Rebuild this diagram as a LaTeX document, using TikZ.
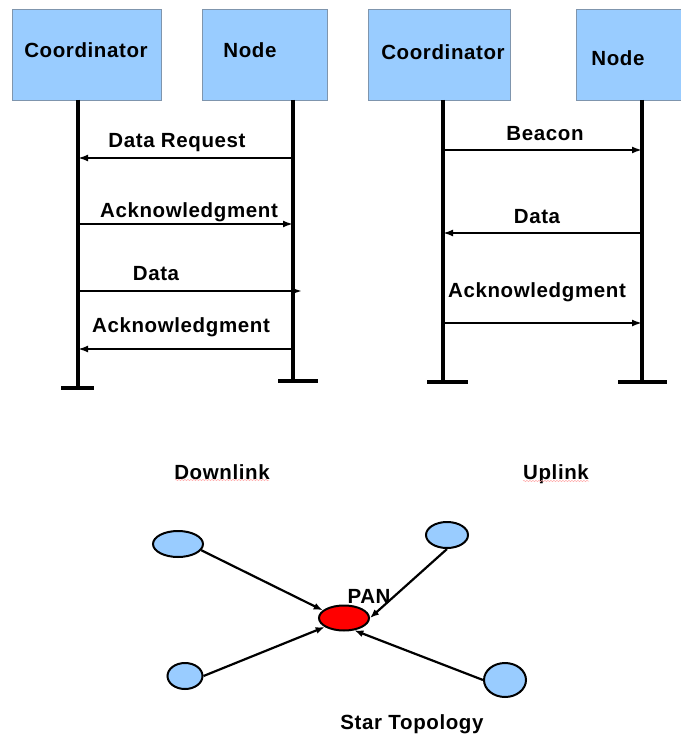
\documentclass[tikz,border=0pt]{standalone}
\usepackage{fontspec}
\setmainfont{Liberation Sans}
\newfontfamily\lblfont[LetterSpace=3]{Liberation Sans}
\usetikzlibrary{arrows.meta,shapes.geometric,decorations.pathmorphing}
\definecolor{boxblue}{HTML}{99CCFF}
\definecolor{boxedge}{HTML}{7F95AD}
\begin{document}
\begin{tikzpicture}[x=1pt,y=-1pt,
  lbl/.style={font=\lblfont\fontsize{20.5}{24}\selectfont\bfseries, inner sep=0pt, text height=14.7pt, text depth=0pt, anchor=center},
  actor/.style={draw=boxedge, line width=0.8pt, fill=boxblue},
  life/.style={line width=3.5pt},
  msg/.style={line width=2.5pt, -{Latex[length=10pt,width=7pt]}},
  leaf/.style={ellipse, draw=black, line width=2pt, fill=boxblue, inner sep=0pt},
  link/.style={line width=2.2pt, -{Latex[length=9pt,width=7pt]}},
  squiggle/.style={draw=red!35, line width=0.5pt, decorate, decoration={snake, amplitude=0.6pt, segment length=3pt}}
]
\useasboundingbox (0,0) rectangle (680,738);
% ---------- Downlink ----------
\draw[actor] (12,9) rectangle (161,100);
\draw[actor] (202,9) rectangle (327,100);
\node[lbl] (lc) at (86,50) {Coordinator};
\node[lbl] (ln) at (250,50) {Node};
\coordinate (lct) at (78,100); \coordinate (lcb) at (78,388);
\coordinate (lnt) at (293,100); \coordinate (lnb) at (293,381);
\draw[life] (lct) -- (lcb);
\draw[life] (lnt) -- (lnb);
\draw[life] (61,388) -- (94,388);
\draw[life] (278,381) -- (318,381);
\coordinate (c1) at (78,158); \coordinate (n1) at (293,158);
\coordinate (c2) at (78,224); \coordinate (n2) at (293,224);
\coordinate (c3) at (78,291); \coordinate (n3) at (302,291);
\coordinate (c4) at (78,349); \coordinate (n4) at (293,349);
\draw[msg] (n1) -- (c1);
\draw[msg] (c2) -- (n2);
\draw[msg] (c3) -- (n3);
\draw[msg] (n4) -- (c4);
\node[lbl] (m1) at (177,140) {Data Request};
\node[lbl] (m2) at (189,210) {Acknowledgment};
\node[lbl] (m3) at (156,273) {Data};
\node[lbl] (m4) at (181,325) {Acknowledgment};
% ---------- Uplink ----------
\draw[actor] (368,9) rectangle (510,100);
\draw[actor] (576,9) rectangle (700,100);
\node[lbl] (rc) at (443,52) {Coordinator};
\node[lbl] (rn) at (618,58) {Node};
\coordinate (rct) at (443,100); \coordinate (rcb) at (443,382);
\coordinate (rnt) at (642,100); \coordinate (rnb) at (642,382);
\draw[life] (rct) -- (rcb);
\draw[life] (rnt) -- (rnb);
\draw[life] (427,382) -- (468,382);
\draw[life] (618,382) -- (667,382);
\coordinate (d1) at (443,150); \coordinate (e1) at (642,150);
\coordinate (d2) at (443,233); \coordinate (e2) at (642,233);
\coordinate (d3) at (443,323); \coordinate (e3) at (642,323);
\draw[msg] (d1) -- (e1);
\draw[msg] (e2) -- (d2);
\draw[msg] (d3) -- (e3);
\node[lbl] (u1) at (545,133) {Beacon};
\node[lbl] (u2) at (537,216) {Data};
\node[lbl] (u3) at (537,290) {Acknowledgment};
% ---------- captions ----------
\node[lbl] (down) at (222,472) {Downlink};
\node[lbl] (up) at (556,472) {Uplink};
\draw[squiggle] (175,480) -- (269,480);
\draw[squiggle] (523,481) -- (589,481);
% ---------- star ----------
\node[leaf, minimum width=50pt, minimum height=26pt] (tl) at (178,544) {};
\node[leaf, minimum width=42pt, minimum height=26pt] (tr) at (447,535) {};
\node[leaf, minimum width=35pt, minimum height=26pt] (bl) at (185,676) {};
\node[leaf, minimum width=42pt, minimum height=34pt] (br) at (505,680) {};
\node[ellipse, draw=black, line width=2pt, fill=red, inner sep=0pt, minimum width=50pt, minimum height=25pt] (pan) at (344,618) {};
\node[lbl] (panl) at (369,596) {PAN};
\draw[link] (tl.-15) -- (pan.160);
\draw[link] (tr.south) -- (pan.east);
\draw[link] (bl.east) -- (pan.-155);
\draw[link] (br.west) -- (pan.-50);
\node[lbl] (star) at (412,722) {Star Topology};
\end{tikzpicture}
\end{document}
